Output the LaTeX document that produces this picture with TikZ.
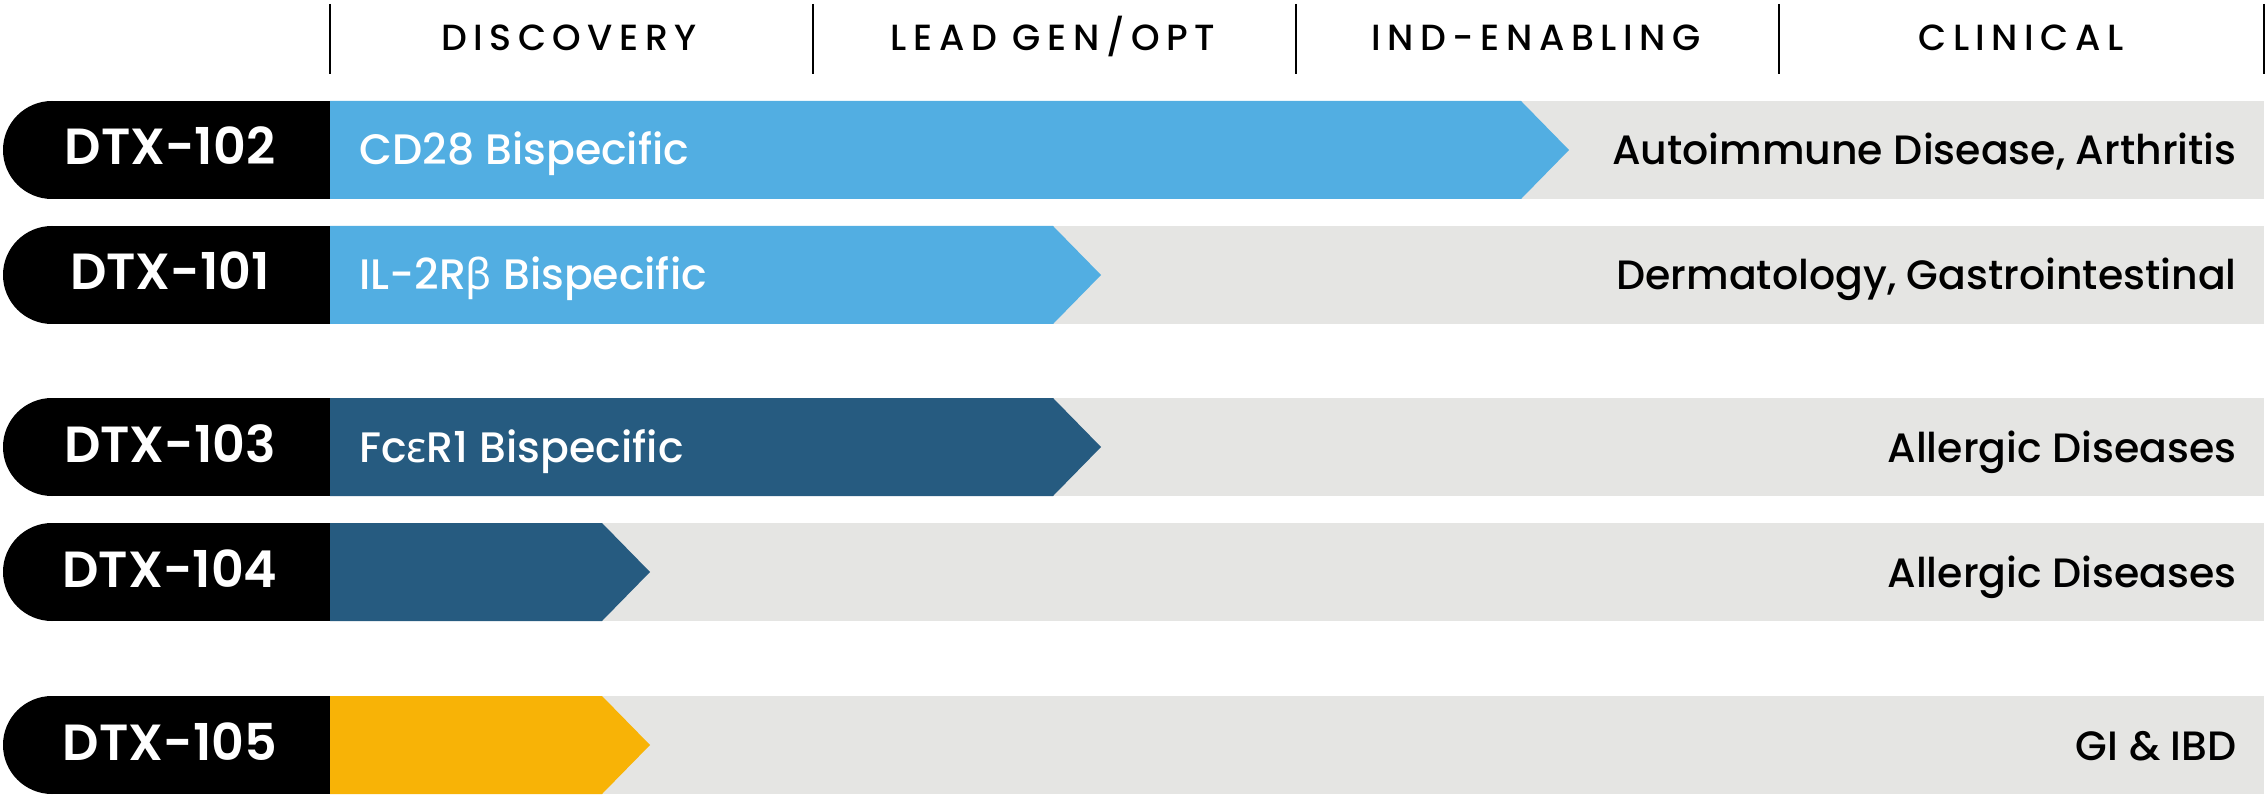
\documentclass[tikz,border=0pt]{standalone}
\usepackage{fontspec}
\setmainfont{Poppins}
\newfontfamily\popmed{Poppins Medium}
\newfontfamily\popsemi{Poppins SemiBold}
\newfontfamily\hdrfont{Poppins Medium}[LetterSpace=18]
\newfontfamily\grkfont{Noto Sans}
\definecolor{lightblue}{RGB}{82,174,226}
\definecolor{darkblue}{RGB}{38,91,128}
\definecolor{gold}{RGB}{248,179,6}
\definecolor{barbg}{RGB}{229,229,227}
\tikzset{
  hdr/.style={font=\hdrfont\fontsize{18.2pt}{18.2pt}\selectfont, text=black, anchor=base, inner sep=0pt},
  divider/.style={line width=1pt, draw=black},
  idlab/.style={font=\popsemi\fontsize{25.4pt}{25.4pt}\selectfont, text=white, anchor=base, inner sep=0pt},
  inlab/.style={font=\popmed\fontsize{21.3pt}{21.3pt}\selectfont, text=white, anchor=base west, inner sep=0pt},
  rlab/.style={font=\popmed\fontsize{20.5pt}{20.5pt}\selectfont, text=black, anchor=base east, inner sep=0pt},
}
\newcommand\rowbar[7]{%
  \pgfmathsetmacro\rowbot{#2+98}%
  \pgfmathsetmacro\rowmid{#2+49}%
  \fill[barbg] (330,#2) rectangle (2264,\rowbot);
  \fill[#3] (330,#2) -- (#4,#2) -- ({#4+48},\rowmid) -- (#4,\rowbot) -- (330,\rowbot) -- cycle;
  \fill[black] (52,\rowmid) circle[radius=24.5pt];
  \fill[black] (52,#2) rectangle (330,\rowbot);
  \node[idlab] (#1id) at (170,{#2+64}) {#5};
  \node[inlab] (#1in) at (359,{#2+64}) {#6};
  \node[rlab] (#1out) at (2237,{#2+64}) {#7};
}
\begin{document}
\begin{tikzpicture}[x=0.5pt,y=-0.5pt]
\useasboundingbox (0,0) rectangle (2268,807);
% header dividers
\foreach \xx/\nm in {330/a,813/b,1296/c,1779/d,2264/e}{
  \coordinate (top\nm) at (\xx,4);
  \coordinate (bot\nm) at (\xx,74);
  \draw[divider] (top\nm) -- (bot\nm);
}
\node[hdr] (h1) at (569,51) {DISCOVERY};
\node[hdr] (h2) at (1053,51) {LEAD GEN/OPT};
\node[hdr] (h3) at (1536,51) {IND-ENABLING};
\node[hdr] (h4) at (2021,51) {CLINICAL};
% rows
\rowbar{r1}{101}{lightblue}{1521}{DTX-102}{CD28 Bispecific}{Autoimmune Disease, Arthritis}
\rowbar{r2}{226}{lightblue}{1053}{DTX-101}{IL-2R{\grkfont β} Bispecific}{Dermatology, Gastrointestinal}
\rowbar{r3}{398}{darkblue}{1053}{DTX-103}{Fc{\grkfont ε}R1 Bispecific}{Allergic Diseases}
\rowbar{r4}{523}{darkblue}{602}{DTX-104}{}{Allergic Diseases}
\rowbar{r5}{696}{gold}{602}{DTX-105}{}{GI \& IBD}
\end{tikzpicture}
\end{document}
